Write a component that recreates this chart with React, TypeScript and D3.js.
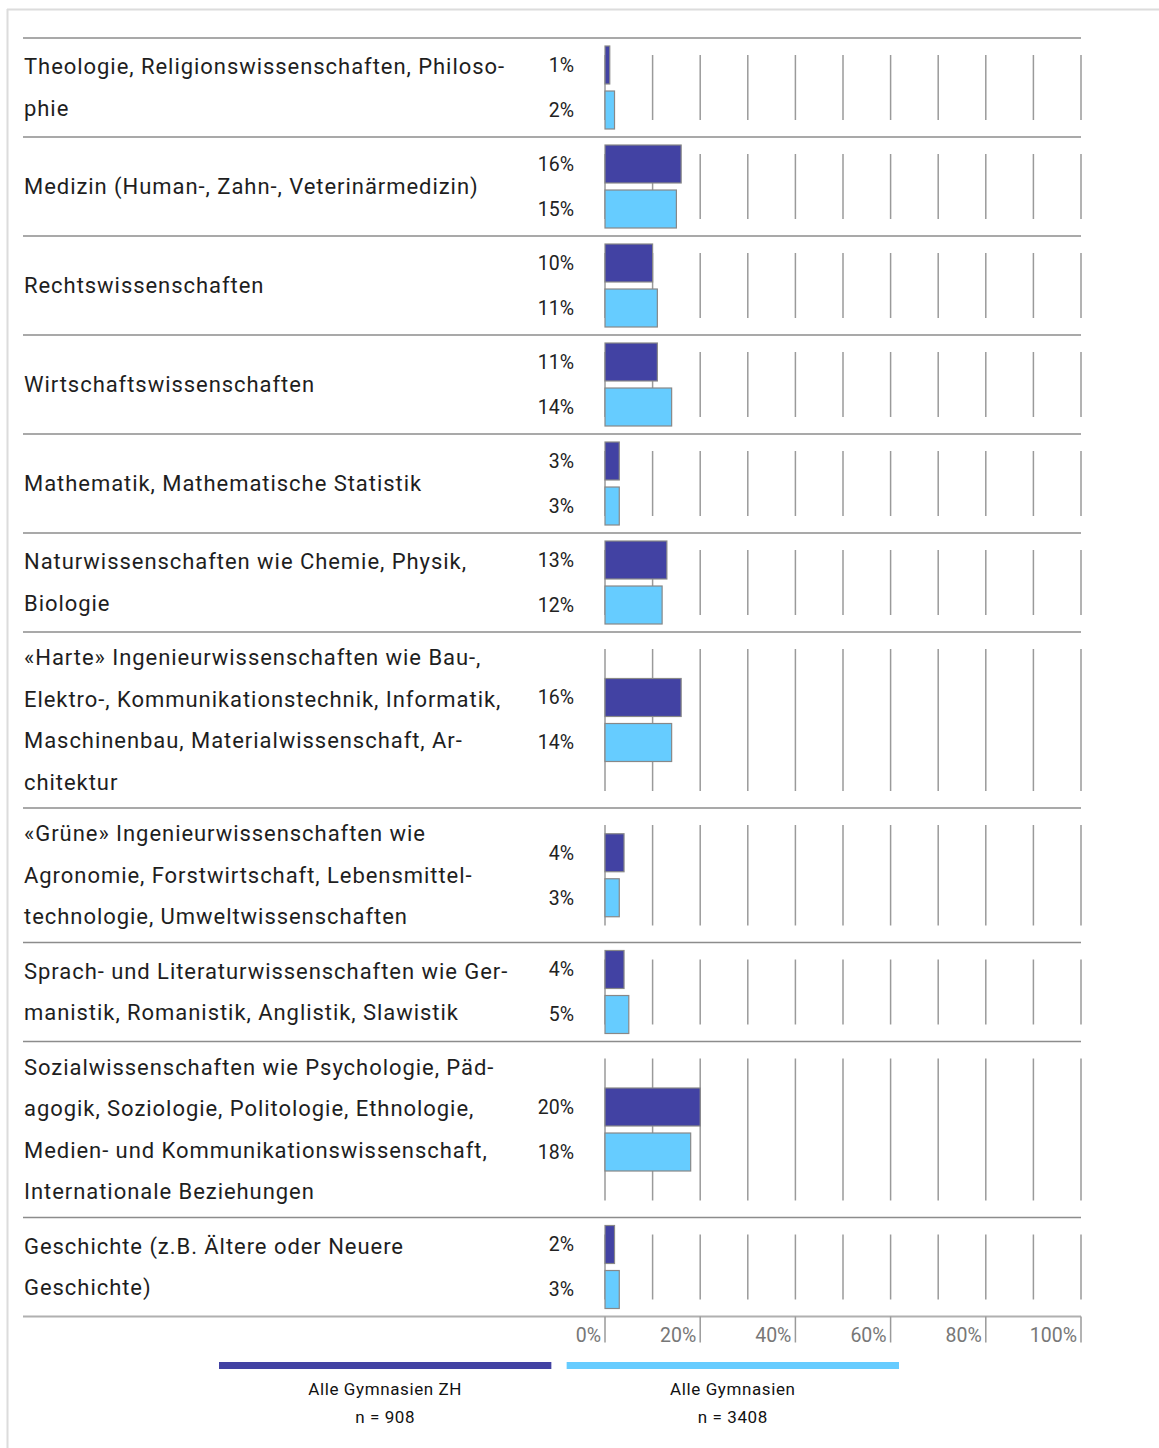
import React, { useEffect, useRef } from 'react'
import * as d3 from 'd3'

// categories (line breaks as printed)
const categories = [
    'Theologie, Religionswissenschaften, Philoso-\nphie',
    'Medizin (Human-, Zahn-, Veterinärmedizin)',
    'Rechtswissenschaften',
    'Wirtschaftswissenschaften',
    'Mathematik, Mathematische Statistik',
    'Naturwissenschaften wie Chemie, Physik,\nBiologie',
    '«Harte» Ingenieurwissenschaften wie Bau-,\nElektro-, Kommunikationstechnik, Informatik,\nMaschinenbau, Materialwissenschaft, Ar-\nchitektur',
    '«Grüne» Ingenieurwissenschaften wie\nAgronomie, Forstwirtschaft, Lebensmittel-\ntechnologie, Umweltwissenschaften',
    'Sprach- und Literaturwissenschaften wie Ger-\nmanistik, Romanistik, Anglistik, Slawistik',
    'Sozialwissenschaften wie Psychologie, Päd-\nagogik, Soziologie, Politologie, Ethnologie,\nMedien- und Kommunikationswissenschaft,\nInternationale Beziehungen',
    'Geschichte (z.B. Ältere oder Neuere\nGeschichte)',
]

const zhValues = [1, 16, 10, 11, 3, 13, 16, 4, 4, 20, 2]
const allValues = [2, 15, 11, 14, 3, 12, 14, 3, 5, 18, 3]

const seriesNames = ['Alle Gymnasien ZH', 'Alle Gymnasien']
const seriesN = ['n = 908', 'n = 3408']
const seriesColors = ['#4242A3', '#66CCFF']

const gridTicks = [0, 10, 20, 30, 40, 50, 60, 70, 80, 90, 100]
const axisTicks = [0, 20, 40, 60, 80, 100]

const App = () => {
    const chartRef = useRef<SVGSVGElement>(null)

    useEffect(() => {
        const W = 1159
        const H = 1448
        const font = 'Roboto, "Open Sans", sans-serif'
        const lineH = 41.5
        const left = 23
        const top = 38

        const svg = d3.select(chartRef.current)
        svg.selectAll('*').remove()

        // outer frame
        svg.append('line').attr('x1', 7).attr('x2', W).attr('y1', 9.5).attr('y2', 9.5)
            .attr('stroke', '#dcdcdc').attr('stroke-width', 2)
        svg.append('line').attr('x1', 7.5).attr('x2', 7.5).attr('y1', 9).attr('y2', H)
            .attr('stroke', '#dcdcdc').attr('stroke-width', 2)

        const x = d3.scaleLinear().domain([0, 100]).range([605, 1081])

        const rows = categories.map((c, i) => {
            const lines = c.split('\n')
            return { lines, zh: zhValues[i], all: allValues[i], h: Math.max(99, lines.length * lineH + 10) }
        })
        let yCursor = top
        const rowPos = rows.map(r => {
            const y0 = yCursor
            yCursor += r.h
            return { y0, y1: yCursor }
        })

        const band = d3.scaleBand<number>().domain([0, 1]).range([-41.5, 41.5]).paddingInner(0.156)

        rows.forEach((r, i) => {
            const { y0, y1 } = rowPos[i]
            const cy = (y0 + y1) / 2
            const g = svg.append('g')

            // separator above row
            g.append('line').attr('x1', left).attr('x2', 1081).attr('y1', y0).attr('y2', y0)
                .attr('stroke', '#8c8c8c').attr('stroke-width', 1.5)

            // gridlines
            g.selectAll('.grid').data(gridTicks).enter().append('line')
                .attr('x1', d => x(d)).attr('x2', d => x(d))
                .attr('y1', y0 + 17).attr('y2', y1 - 17)
                .attr('stroke', '#9a9a9a').attr('stroke-width', 1.5)

            // category label
            const t = g.append('text').attr('font-family', font).attr('font-size', 22).attr('fill', '#1e1e1e')
            r.lines.forEach((ln, k) => {
                t.append('tspan').attr('x', 24)
                    .attr('y', cy + (k - (r.lines.length - 1) / 2) * lineH)
                    .attr('dy', '0.35em').attr('letter-spacing', 0.95).text(ln)
            })

            const vals = [r.zh, r.all]
            vals.forEach((v, s) => {
                const by = cy + (band(s) as number)
                g.append('rect')
                    .attr('x', x(0)).attr('y', by)
                    .attr('width', x(v) - x(0)).attr('height', band.bandwidth())
                    .attr('fill', seriesColors[s]).attr('stroke', '#888').attr('stroke-width', 1.2)
                g.append('text')
                    .attr('x', 574).attr('y', by + band.bandwidth() / 2).attr('dy', '0.35em')
                    .attr('text-anchor', 'end').attr('font-family', font).attr('font-size', 19.5)
                    .attr('fill', '#222').text(`${v}%`)
            })
        })

        // bottom axis
        const axisY = yCursor
        svg.append('line').attr('x1', left).attr('x2', 1081).attr('y1', axisY).attr('y2', axisY)
            .attr('stroke', '#b0b0b0').attr('stroke-width', 2)
        const ax = svg.append('g')
        ax.selectAll('.tick').data(axisTicks).enter().append('line')
            .attr('x1', d => x(d)).attr('x2', d => x(d))
            .attr('y1', axisY).attr('y2', axisY + 26)
            .attr('stroke', '#9a9a9a').attr('stroke-width', 1.5)
        ax.selectAll('.lbl').data(axisTicks).enter().append('text')
            .attr('x', d => x(d) - 4).attr('y', axisY + 25)
            .attr('text-anchor', 'end').attr('font-family', font).attr('font-size', 19.5)
            .attr('fill', '#777').text(d => `${d}%`)

        // legend
        const legX = d3.scaleBand<number>().domain([0, 1]).range([219, 899]).paddingInner(0.044)
        seriesNames.forEach((name, s) => {
            const lx = legX(s) as number
            const cx = lx + legX.bandwidth() / 2
            svg.append('rect').attr('x', lx).attr('y', axisY + 45.5)
                .attr('width', legX.bandwidth()).attr('height', 7).attr('fill', seriesColors[s])
            svg.append('text').attr('x', cx).attr('y', axisY + 78).attr('text-anchor', 'middle')
                .attr('font-family', font).attr('font-size', 17).attr('letter-spacing', 0.6)
                .attr('fill', '#111').text(name)
            svg.append('text').attr('x', cx).attr('y', axisY + 106).attr('text-anchor', 'middle')
                .attr('font-family', font).attr('font-size', 17).attr('letter-spacing', 0.6)
                .attr('fill', '#111').text(seriesN[s])
        })
    }, [])

    return (
        <svg ref={chartRef} width={1159} height={1448}
            style={{ position: 'absolute', left: 0, top: 0, background: '#fff' }} />
    )
}

export default App
